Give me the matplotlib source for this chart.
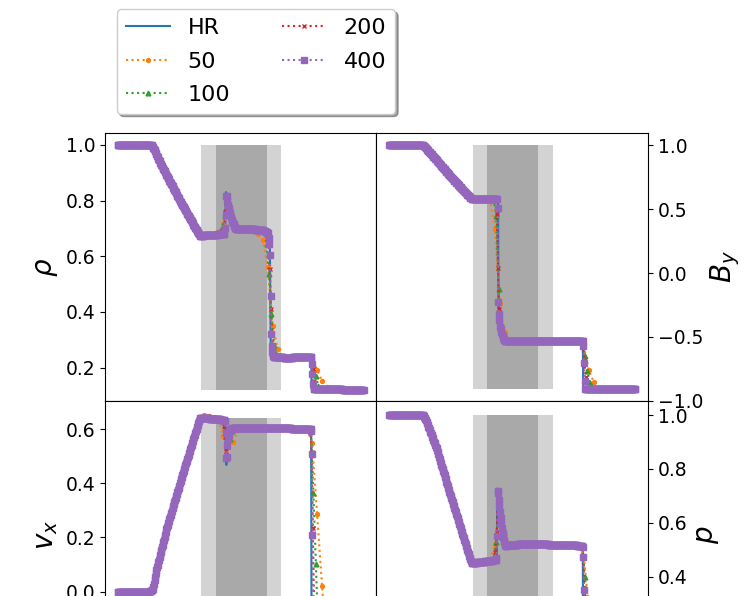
import numpy as np
import matplotlib
matplotlib.use("Agg")
import matplotlib.pyplot as plt

# ---------------- data ----------------
series = ["HR", "50", "100", "200", "400"]
n_cells = {"HR": 2000, "50": 50, "100": 100, "200": 200, "400": 400}

# shaded regions (x ranges)
light_band = (0.34, 0.665)
dark_band = (0.40, 0.605)

# high-resolution profiles: (x, value) knots
rho_hr = [(0.0, 1.0), (0.139, 1.0), (0.15, 0.985), (0.174, 0.935), (0.254, 0.80),
          (0.335, 0.673), (0.36, 0.676), (0.437, 0.68), (0.4405, 0.832), (0.45, 0.778),
          (0.464, 0.731), (0.477, 0.70), (0.55, 0.697), (0.59, 0.694), (0.612, 0.684),
          (0.618, 0.68), (0.622, 0.236), (0.70, 0.236), (0.786, 0.24), (0.7875, 0.122),
          (1.0, 0.121)]
by_hr = [(0.0, 1.0), (0.14, 1.0), (0.15, 0.98), (0.194, 0.883), (0.262, 0.73),
         (0.336, 0.579), (0.443, 0.579), (0.4445, -0.287), (0.451, -0.417), (0.46, -0.49),
         (0.471, -0.534), (0.60, -0.535), (0.786, -0.535), (0.7875, -0.905), (1.0, -0.906)]
vx_hr = [(0.0, 0.0), (0.13, 0.0), (0.145, 0.01), (0.16, 0.086), (0.20, 0.234),
         (0.268, 0.443), (0.335, 0.642), (0.437, 0.634), (0.4405, 0.50), (0.442, 0.461),
         (0.444, 0.52), (0.449, 0.567), (0.455, 0.595), (0.47, 0.604), (0.60, 0.605),
         (0.786, 0.60), (0.7875, -0.24), (1.0, -0.24)]
p_hr = [(0.0, 1.0), (0.14, 1.0), (0.15, 0.985), (0.194, 0.876), (0.262, 0.666),
        (0.336, 0.450), (0.437, 0.462), (0.4405, 0.73), (0.448, 0.64), (0.46, 0.56),
        (0.471, 0.515), (0.55, 0.522), (0.70, 0.518), (0.786, 0.515), (0.7875, 0.10),
        (1.0, 0.10)]

# lower-resolution deviations near the waves: lists of (x, value) knots
rho_dev = {
    "50": [[(0.40, 0.675), (0.433, 0.72), (0.455, 0.765), (0.49, 0.70)],
           [(0.56, 0.692), (0.59, 0.66), (0.612, 0.55), (0.622, 0.40), (0.64, 0.287), (0.665, 0.236)],
           [(0.787, 0.24), (0.808, 0.198), (0.822, 0.162), (0.842, 0.135), (0.86, 0.122)]],
    "100": [[(0.42, 0.678), (0.446, 0.80), (0.46, 0.74), (0.482, 0.70)],
            [(0.595, 0.69), (0.61, 0.62), (0.62, 0.45), (0.635, 0.28), (0.65, 0.236)],
            [(0.787, 0.24), (0.80, 0.19), (0.818, 0.122)]],
    "200": [[(0.43, 0.679), (0.443, 0.82), (0.452, 0.77), (0.465, 0.73), (0.479, 0.70)],
            [(0.605, 0.685), (0.615, 0.63), (0.622, 0.42), (0.63, 0.27), (0.64, 0.236)],
            [(0.787, 0.24), (0.801, 0.122)]],
    "400": [[(0.435, 0.68), (0.4405, 0.78), (0.4415, 0.83), (0.45, 0.778), (0.464, 0.731), (0.478, 0.70)],
            [(0.612, 0.683), (0.616, 0.647), (0.619, 0.60), (0.622, 0.41), (0.624, 0.31),
             (0.627, 0.265), (0.632, 0.237)],
            [(0.787, 0.24), (0.795, 0.122)]],
}
by_dev = {
    "50": [[(0.41, 0.579), (0.425, 0.52), (0.44, 0.0), (0.455, -0.35), (0.48, -0.534)],
           [(0.787, -0.535), (0.80, -0.68), (0.815, -0.80), (0.845, -0.90), (0.86, -0.906)]],
    "100": [[(0.425, 0.579), (0.435, 0.45), (0.443, -0.05), (0.452, -0.38), (0.475, -0.534)],
            [(0.787, -0.535), (0.80, -0.72), (0.82, -0.906)]],
    "200": [[(0.433, 0.579), (0.44, 0.40), (0.4435, -0.10), (0.45, -0.40), (0.472, -0.534)],
            [(0.787, -0.535), (0.801, -0.906)]],
    "400": [[(0.440, 0.579), (0.442, 0.47), (0.443, -0.09), (0.444, -0.27), (0.451, -0.417),
             (0.46, -0.49), (0.471, -0.534)],
            [(0.787, -0.535), (0.789, -0.58), (0.792, -0.75), (0.795, -0.906)]],
}
vx_dev = {
    "50": [[(0.32, 0.62), (0.345, 0.652), (0.38, 0.645)],
           [(0.41, 0.64), (0.423, 0.59), (0.44, 0.55), (0.464, 0.53), (0.48, 0.59), (0.50, 0.605)],
           [(0.786, 0.60), (0.85, -0.24)]],
    "100": [[(0.425, 0.634), (0.44, 0.56), (0.448, 0.53), (0.46, 0.59), (0.48, 0.604)],
            [(0.786, 0.60), (0.818, -0.24)]],
    "200": [[(0.43, 0.634), (0.44, 0.55), (0.444, 0.50), (0.45, 0.56), (0.46, 0.598), (0.475, 0.604)],
            [(0.786, 0.60), (0.801, -0.24)]],
    "400": [[(0.436, 0.634), (0.439, 0.58), (0.441, 0.50), (0.4425, 0.461), (0.445, 0.53),
             (0.45, 0.575), (0.457, 0.598), (0.47, 0.604)],
            [(0.786, 0.60), (0.788, 0.548), (0.790, 0.443), (0.791, 0.24), (0.795, -0.24)]],
}
p_dev = {
    "50": [[(0.41, 0.462), (0.43, 0.52), (0.45, 0.62), (0.465, 0.57), (0.49, 0.515)],
           [(0.786, 0.515), (0.80, 0.38), (0.82, 0.20), (0.85, 0.10)]],
    "100": [[(0.425, 0.462), (0.437, 0.54), (0.445, 0.66), (0.455, 0.60), (0.468, 0.535), (0.48, 0.515)],
            [(0.786, 0.515), (0.818, 0.10)]],
    "200": [[(0.43, 0.462), (0.437, 0.55), (0.442, 0.70), (0.452, 0.63), (0.463, 0.55), (0.475, 0.515)],
            [(0.786, 0.515), (0.801, 0.10)]],
    "400": [[(0.436, 0.462), (0.439, 0.56), (0.4405, 0.685), (0.4415, 0.73), (0.451, 0.641),
             (0.462, 0.555), (0.472, 0.515)],
            [(0.786, 0.515), (0.789, 0.47), (0.7905, 0.40), (0.795, 0.10)]],
}

labels = {"rho": r"$\rho$", "by": r"$B_y$", "vx": r"$v_x$", "p": r"$p$"}
ylims = {"rho": (0.0801, 1.0431), "by": (-1.0008, 1.0953),
         "vx": (-0.2856, 0.7037), "p": (0.0575, 1.052)}

styles = {
    "HR": dict(color="C0", ls="-", lw=1.5),
    "50": dict(color="C1", ls=":", lw=1.5, marker="o", ms=2.8),
    "100": dict(color="C2", ls=":", lw=1.5, marker="^", ms=3.4),
    "200": dict(color="C3", ls=":", lw=1.5, marker="x", ms=3.0, mew=1.0),
    "400": dict(color="C4", ls=":", lw=1.5, marker="s", ms=3.8),
}


def knots_for(hr, dev, name):
    pts = list(hr)
    if name in dev:
        for seg in dev[name]:
            a, b = seg[0][0], seg[-1][0]
            pts = [q for q in pts if q[0] < a or q[0] > b] + list(seg)
    pts.sort()
    arr = np.array(pts)
    return arr[:, 0], arr[:, 1]


def grid(name):
    n = n_cells[name]
    if name == "HR":
        return np.linspace(0.0, 1.0, n)
    return (np.arange(n) + 0.5) / n


# ---------------- figure ----------------
plt.rcParams["xtick.labelsize"] = 13.5
plt.rcParams["ytick.labelsize"] = 13.5

W, H = 745, 596
fig = plt.figure(figsize=(W / 100, H / 100), dpi=100)


def add(l, t, w, h):
    return fig.add_axes([l / W, 1 - (t + h) / H, w / W, h / H])


axes = {
    "rho": add(105, 133, 271.3, 268),
    "by": add(376.3, 133, 271.7, 268),
    "vx": add(105, 401, 271.3, 268),
    "p": add(376.3, 401, 271.7, 268),
}
profiles = {"rho": (rho_hr, rho_dev), "by": (by_hr, by_dev),
            "vx": (vx_hr, vx_dev), "p": (p_hr, p_dev)}

handles = []
for key, ax in axes.items():
    hr, dev = profiles[key]
    hx, hy = knots_for(hr, dev, "HR")
    lo, hi = hy.min(), hy.max()
    ax.fill_betweenx([lo, hi], light_band[0], light_band[1], color="lightgray", lw=0)
    ax.fill_betweenx([lo, hi], dark_band[0], dark_band[1], color="darkgray", lw=0)
    hs = []
    for name in series:
        kx, ky = knots_for(hr, dev, name)
        xs = grid(name)
        ys = np.interp(xs, kx, ky)
        (ln,) = ax.plot(xs, ys, label=name, **styles[name])
        hs.append(ln)
    if not handles:
        handles = hs
    ax.set_xlim(-0.05, 1.05)
    ax.set_ylim(*ylims[key])
    ax.set_ylabel(labels[key], fontsize=20)

for key in ("by", "p"):
    axes[key].yaxis.tick_right()
    axes[key].yaxis.set_label_position("right")
for key in ("rho", "by"):
    axes[key].set_xticks([])
for key in ("vx", "p"):
    axes[key].tick_params(axis="x", labelbottom=False)

axes["rho"].set_yticks([0.2, 0.4, 0.6, 0.8, 1.0])
axes["by"].set_yticks([-1.0, -0.5, 0.0, 0.5, 1.0])
axes["vx"].set_yticks([0.0, 0.2, 0.4, 0.6])
axes["p"].set_yticks([0.2, 0.4, 0.6, 0.8, 1.0])

fig.legend(handles, series, loc="upper left", bbox_to_anchor=(116.7 / W, 1 - 9.3 / H),
           ncol=2, fontsize=16, labelspacing=0.6, columnspacing=2.3,
           shadow=True, borderaxespad=0)

fig.savefig("out.png", dpi=100)
